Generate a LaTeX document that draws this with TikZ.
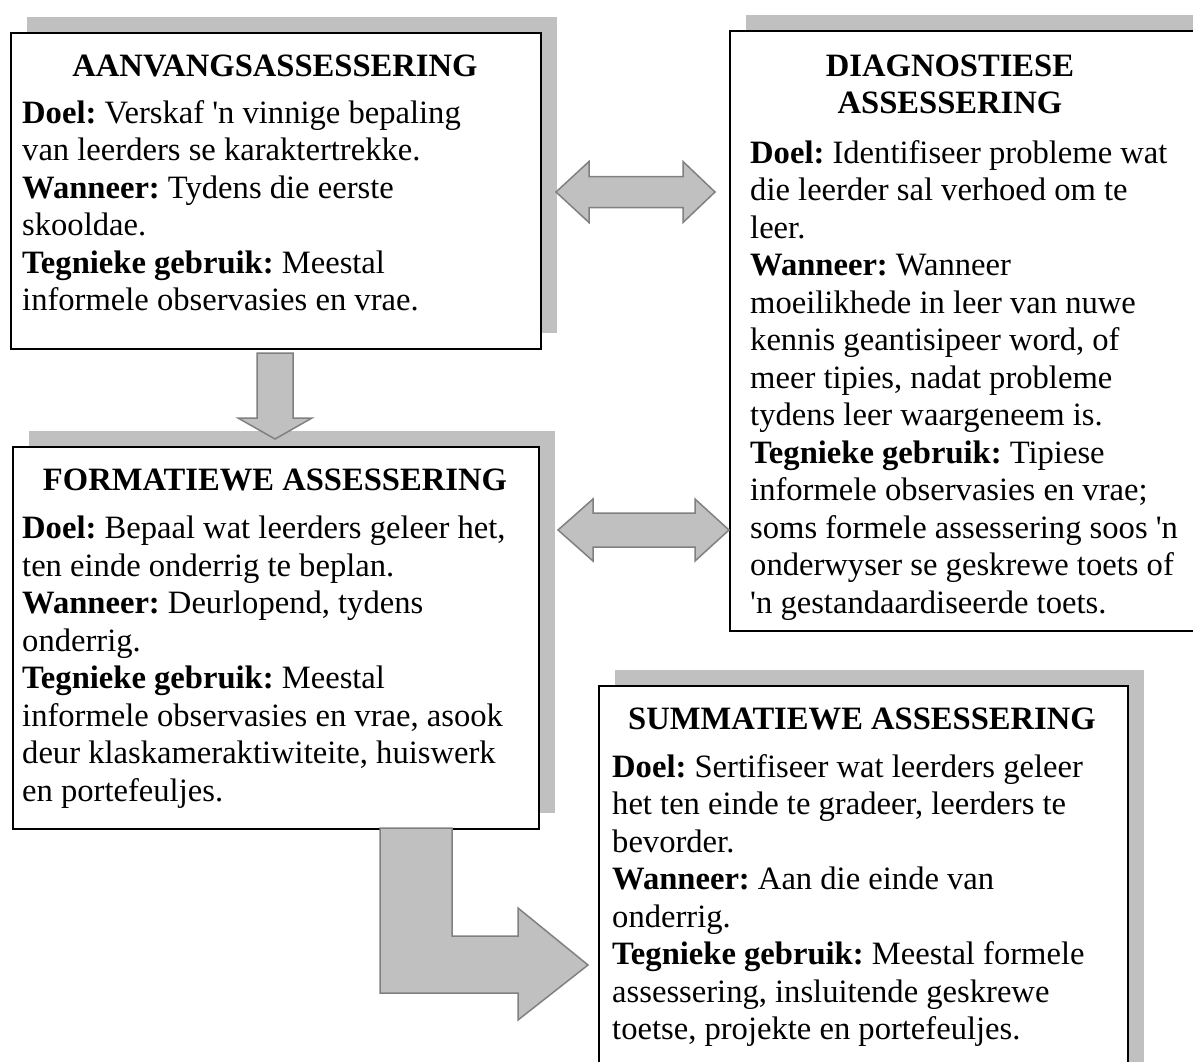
\documentclass[tikz,border=0pt]{standalone}
\usepackage{fontspec}
\setmainfont{Liberation Serif}[Ligatures=TeXOff]
\usetikzlibrary{shadows}
\definecolor{shadowgray}{HTML}{C0C0C0}
\definecolor{arrowedge}{HTML}{808080}
\newcommand\cardfont{\fontsize{32.6pt}{37.5pt}\selectfont\frenchspacing}
\tikzset{
  card/.style={draw=black, line width=2pt, fill=white, anchor=north west,
    inner sep=0pt,
    general shadow={fill=shadowgray, draw=none, shadow xshift=16pt, shadow yshift=16pt}},
  heading/.style={font=\cardfont\bfseries, anchor=base, inner sep=0pt},
  body/.style={font=\cardfont, align=left, anchor=north west, inner sep=0pt},
  blockarrow/.style={fill=shadowgray, draw=arrowedge, line width=1.5pt, line join=miter},
}
\begin{document}
\begin{tikzpicture}[x=1pt, y=-1pt]
\clip (0,0) rectangle (1193,1061);

% the four assessment cards
\node[card, minimum width=530pt, minimum height=316pt] (aanvang) at (10,32) {};
\node[card, minimum width=480pt, minimum height=600pt] (diag) at (729,30) {};
\node[card, minimum width=526pt, minimum height=382pt] (form) at (12,446) {};
\node[card, minimum width=529pt, minimum height=400pt] (summ) at (598,685) {};

% headings
\node[heading] (aanvangtitle) at (275,76) {AANVANGSASSESSERING};
\node[heading] (diagtitlea) at (950,76) {DIAGNOSTIESE};
\node[heading] (diagtitleb) at (950,113) {ASSESSERING};
\node[heading] (formtitle) at (275,490) {FORMATIEWE ASSESSERING};
\node[heading] (summtitle) at (862,729) {SUMMATIEWE ASSESSERING};

% card texts
\node[body] (aanvangtext) at (22,100) {%
\textbf{Doel:} Verskaf 'n vinnige bepaling\\
van leerders se karaktertrekke.\\
\textbf{Wanneer:} Tydens die eerste\\
skooldae.\\
\textbf{Tegnieke gebruik:} Meestal\\
informele observasies en vrae.};

\node[body] (diagtext) at (750,140) {%
\textbf{Doel:} Identifiseer probleme wat\\
die leerder sal verhoed om te\\
leer.\\
\textbf{Wanneer:} Wanneer\\
moeilikhede in leer van nuwe\\
kennis geantisipeer word, of\\
meer tipies, nadat probleme\\
tydens leer waargeneem is.\\
\textbf{Tegnieke gebruik:} Tipiese\\
informele observasies en vrae;\\
soms formele assessering soos 'n\\
onderwyser se geskrewe toets of\\
'n gestandaardiseerde toets.};

\node[body] (formtext) at (22,516) {%
\textbf{Doel:} Bepaal wat leerders geleer het,\\
ten einde onderrig te beplan.\\
\textbf{Wanneer:} Deurlopend, tydens\\
onderrig.\\
\textbf{Tegnieke gebruik:} Meestal\\
informele observasies en vrae, asook\\
deur klaskameraktiwiteite, huiswerk\\
en portefeuljes.};

\node[body] (summtext) at (612,754) {%
\textbf{Doel:} Sertifiseer wat leerders geleer\\
het ten einde te gradeer, leerders te\\
bevorder.\\
\textbf{Wanneer:} Aan die einde van\\
onderrig.\\
\textbf{Tegnieke gebruik:} Meestal formele\\
assessering, insluitende geskrewe\\
toetse, projekte en portefeuljes.};

% double arrow between initial and diagnostic assessment
\draw[blockarrow] (556,192) -- (589,161.5) -- (589,176.5) -- (683,176.5)
  -- (683,161.5) -- (715,192) -- (683,222.5) -- (683,207.5) -- (589,207.5)
  -- (589,222.5) -- cycle;
% double arrow between formative and diagnostic assessment
\draw[blockarrow] (558,530) -- (593,499) -- (593,513) -- (695,513)
  -- (695,499) -- (729,530) -- (695,561) -- (695,547) -- (593,547)
  -- (593,561) -- cycle;
% downward arrow from initial to formative assessment
\draw[blockarrow] (257,353) -- (293,353) -- (293,418) -- (312,418)
  -- (275,439) -- (238,418) -- (257,418) -- cycle;
% bent arrow from formative to summative assessment
\draw[blockarrow] (380,828) -- (452,828) -- (452,936) -- (518,936)
  -- (518,908) -- (588,965) -- (518,1020) -- (518,993) -- (380,993) -- cycle;
\end{tikzpicture}
\end{document}
